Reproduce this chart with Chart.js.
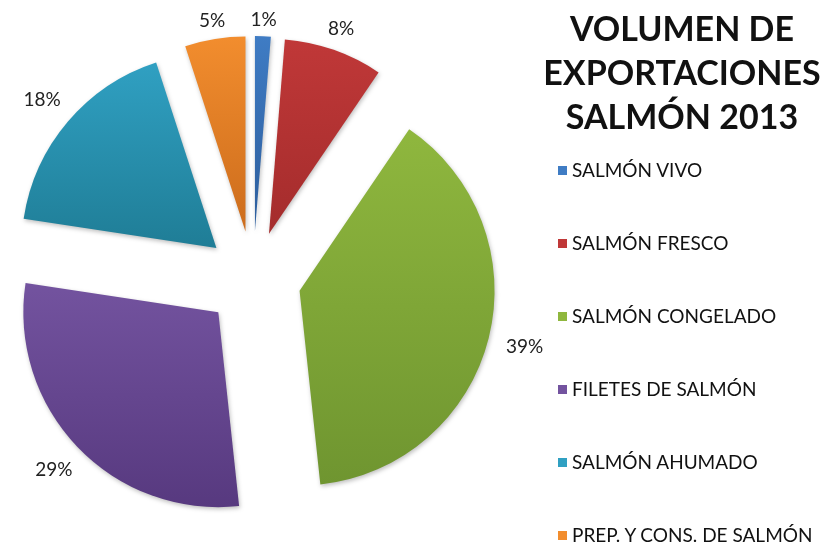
<!DOCTYPE html>
<html lang="es">
<head>
<meta charset="utf-8">
<title>Volumen de exportaciones salmón 2013</title>
<script src="https://cdn.jsdelivr.net/npm/chart.js@4.4.1/dist/chart.umd.min.js"></script>
<style>
    html, body { margin: 0; padding: 0; background: #ffffff; }
    #contenedor { position: relative; width: 824px; height: 543px; overflow: hidden; }
    #grafica { position: absolute; left: 0; top: 0; }
    #titulo {
        position: absolute; left: 540px; top: 6px; width: 284px;
        text-align: center; font: bold 34px Lato, "Open Sans", sans-serif;
        line-height: 44px; color: #111111;
    }
    #leyenda { position: absolute; left: 558px; top: 0; margin: 0; padding: 0; list-style: none; }
    #leyenda li {
        position: absolute; left: 0; white-space: nowrap; height: 22px; line-height: 22px;
        font: 19px Lato, "Open Sans", sans-serif; color: #111111;
    }
    #leyenda span.caja { display: inline-block; width: 9px; height: 9px; margin-right: 5px; vertical-align: 2px; }
</style>
</head>
<body>
<div id="contenedor">
    <canvas id="grafica" width="824" height="543"></canvas>
    <div id="titulo"></div>
    <ul id="leyenda"></ul>
</div>
<script>
// Datos (participación en %)
const categorias = ['SALMÓN VIVO', 'SALMÓN FRESCO', 'SALMÓN CONGELADO', 'FILETES DE SALMÓN', 'SALMÓN AHUMADO', 'PREP. Y CONS. DE SALMÓN'];
const porcentajes = [1.3, 8.2, 38.8, 29.1, 17.6, 5.0];
const tituloLineas = ['VOLUMEN DE', 'EXPORTACIONES', 'SALMÓN 2013'];

// Colores (parte alta y parte baja de cada rebanada)
const coloresClaros = ['#3f7cc4', '#c03838', '#8fb73e', '#73539f', '#30a0c2', '#f28d2e'];
const coloresOscuros = ['#2c5d9c', '#a42c2c', '#6f9530', '#57397f', '#1f7d96', '#cc6c1c'];

const RADIO = 195;
const SEPARACION = 48; // cuánto se aleja cada rebanada del centro

const total = porcentajes.reduce((a, b) => a + b, 0);

// Degradado vertical para cada rebanada, según su propia altura
function degradado(context) {
    const i = context.dataIndex;
    const area = context.chart.chartArea;
    if (!area) return coloresClaros[i];
    const cy = (area.top + area.bottom) / 2;
    let acc = 0;
    for (let j = 0; j < i; j++) acc += porcentajes[j];
    const a0 = acc / total * Math.PI * 2;
    const a1 = (acc + porcentajes[i]) / total * Math.PI * 2;
    const ys = [cy, cy - Math.cos(a0) * RADIO, cy - Math.cos(a1) * RADIO];
    if (a0 <= 0) ys.push(cy - RADIO);
    if (a0 <= Math.PI && a1 >= Math.PI) ys.push(cy + RADIO);
    const g = context.chart.ctx.createLinearGradient(0, Math.min(...ys), 0, Math.max(...ys));
    g.addColorStop(0, coloresClaros[i]);
    g.addColorStop(1, coloresOscuros[i]);
    return g;
}

// Dibuja las rebanadas separadas (con sombra suave) y las etiquetas de porcentaje
const explotado = {
    id: 'explotado',
    beforeDatasetDraw(chart, args) {
        const ctx = chart.ctx;
        ctx.save();
        ctx.shadowColor = 'rgba(0, 0, 0, 0.25)';
        ctx.shadowBlur = 4;
        ctx.shadowOffsetX = 1;
        ctx.shadowOffsetY = 2;
        args.meta.data.forEach(arc => {
            const medio = (arc.startAngle + arc.endAngle) / 2;
            ctx.save();
            ctx.translate(Math.cos(medio) * SEPARACION, Math.sin(medio) * SEPARACION);
            arc.draw(ctx);
            ctx.restore();
        });
        ctx.restore();
        return false;
    },
    afterDatasetsDraw(chart) {
        const ctx = chart.ctx;
        const meta = chart.getDatasetMeta(0);
        ctx.save();
        ctx.font = '19px Lato, "Open Sans", sans-serif';
        ctx.fillStyle = '#222222';
        ctx.textAlign = 'center';
        ctx.textBaseline = 'middle';
        meta.data.forEach((arc, i) => {
            const {x, y, startAngle, endAngle, outerRadius} = arc.getProps(['x', 'y', 'startAngle', 'endAngle', 'outerRadius'], true);
            const medio = (startAngle + endAngle) / 2;
            const texto = Math.round(porcentajes[i] / total * 100) + '%';
            const w = ctx.measureText(texto).width;
            const c = Math.cos(medio);
            const s = Math.sin(medio);
            const d = outerRadius + SEPARACION + 10 + Math.abs(c) * (w / 2 + 8) + Math.abs(s) * 5;
            ctx.fillText(texto, x + c * d, y + s * d);
        });
        ctx.restore();
    }
};

const ctx = document.getElementById('grafica').getContext('2d');
const chart = new Chart(ctx, {
    type: 'pie',
    data: {
        labels: categorias,
        datasets: [{
            data: porcentajes,
            backgroundColor: degradado,
            borderWidth: 0
        }]
    },
    options: {
        responsive: false,
        animation: false,
        radius: RADIO,
        layout: { padding: { top: 15, right: 318 } },
        plugins: {
            legend: { display: false },
            tooltip: { enabled: false }
        }
    },
    plugins: [explotado]
});

// Título y leyenda en HTML, a partir de los arreglos
document.getElementById('titulo').innerHTML = tituloLineas.join('<br>');

const leyenda = document.getElementById('leyenda');
categorias.forEach((nombre, i) => {
    const li = document.createElement('li');
    li.style.top = (158 + i * 73) + 'px';
    const caja = document.createElement('span');
    caja.className = 'caja';
    caja.style.background = coloresClaros[i];
    li.appendChild(caja);
    li.appendChild(document.createTextNode(nombre));
    leyenda.appendChild(li);
});
</script>
</body>
</html>
